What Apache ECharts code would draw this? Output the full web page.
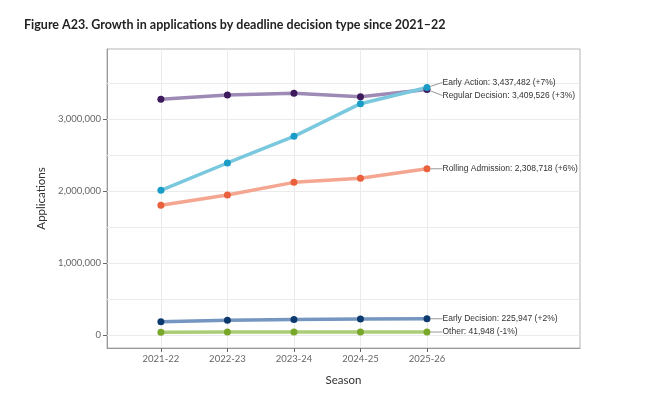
<!DOCTYPE html>
<html>
<head>
<meta charset="utf-8">
<script src="https://cdn.jsdelivr.net/npm/echarts@6/dist/echarts.min.js"></script>
<style>
  html, body { margin: 0; padding: 0; background: #fff; }
  #chart { width: 656px; height: 399px; }
</style>
</head>
<body>
<div id="chart"></div>
<script>
const seasons = ['2021-22', '2022-23', '2023-24', '2024-25', '2025-26']
const earlyAction = [2009000, 2389000, 2759000, 3212600, 3437482]
const regularDecision = [3273000, 3333000, 3356000, 3310000, 3409526]
const rollingAdmission = [1801000, 1944000, 2120000, 2178000, 2308718]
const earlyDecision = [183000, 205000, 215000, 221500, 225947]
const other = [40000, 43000, 42000, 42400, 41948]
const yTicks = [0, 1000000, 2000000, 3000000]
const yGrid = [0, 500000, 1000000, 1500000, 2000000, 2500000, 3000000, 3500000]

const chart = echarts.init(document.getElementById('chart'))

// series config: name, values, line colour, point colour, label nudge
const lines = [
  { name: 'Regular Decision', data: regularDecision, line: '#9d8bb6', dot: '#3d1a5b', dy: 6 },
  { name: 'Early Action', data: earlyAction, line: '#7ac8de', dot: '#1a9cc7', dy: -5 },
  { name: 'Rolling Admission', data: rollingAdmission, line: '#f4a690', dot: '#e8603c', dy: 0 },
  { name: 'Early Decision', data: earlyDecision, line: '#7496c0', dot: '#0d3a6e', dy: 0 },
  { name: 'Other', data: other, line: '#abcd78', dot: '#78a72a', dy: 0 }
]

const fmt = (v) => v.toLocaleString('en-US')

const series = lines.map((s) => {
  const n = s.data.length
  const pct = Math.round((s.data[n - 1] / s.data[n - 2] - 1) * 100)
  const pctTxt = (pct > 0 ? '+' : '') + pct + '%'
  return {
    name: s.name,
    type: 'line',
    symbol: 'circle',
    symbolSize: 7,
    lineStyle: { color: s.line, width: 3.5 },
    itemStyle: { color: s.dot, borderWidth: 0 },
    z: 3,
    data: s.data.map((v, i) => {
      const item = { value: [i + 1, v] }
      if (i === n - 1) {
        item.label = {
          show: true,
          position: 'right',
          distance: 12,
          formatter: s.name + ': ' + fmt(v) + ' (' + pctTxt + ')',
          fontFamily: 'Liberation Sans',
          fontSize: 8.5,
          color: '#333'
        }
      }
      return item
    }),
    labelLine: { show: true, lineStyle: { color: '#999', width: 1 } },
    labelLayout: { dy: s.dy }
  }
})

// grid lines drawn as markLines so they sit on the data values
series.push({
  type: 'line',
  data: [],
  silent: true,
  z: 1,
  markLine: {
    z: 1,
    silent: true,
    animation: false,
    symbol: 'none',
    label: { show: false },
    emphasis: { disabled: true },
    lineStyle: { color: '#ebebeb', width: 1, type: 'solid' },
    data: yGrid.map((v) => ({ yAxis: v })).concat(seasons.map((s, i) => ({ xAxis: i + 1 })))
  }
})

const options = {
  animation: false,
  backgroundColor: '#fff',
  title: {
    text: 'Figure A23. Growth in applications by deadline decision type since 2021–22',
    left: 19,
    top: 13,
    textStyle: { fontFamily: 'Lato', fontSize: 12.5, fontWeight: 'bold', color: '#222' }
  },
  grid: {
    left: 107, right: 76, top: 49, bottom: 51,
    show: true, borderColor: '#b5b5b5', borderWidth: 1
  },
  xAxis: {
    type: 'value',
    min: 0.19,
    max: 7.3,
    name: 'Season',
    nameLocation: 'middle',
    nameGap: 26,
    nameTextStyle: { fontFamily: 'Lato', fontSize: 11.5, color: '#333' },
    axisLine: { show: true, onZero: false, lineStyle: { color: '#999' } },
    axisTick: { show: true, length: 4, customValues: [1, 2, 3, 4, 5], lineStyle: { color: '#666' } },
    axisLabel: {
      customValues: [1, 2, 3, 4, 5],
      formatter: (v) => seasons[Math.round(v) - 1] || '',
      fontFamily: 'Lato', fontSize: 9.5, color: '#666', margin: 6
    },
    splitLine: { show: false }
  },
  yAxis: {
    type: 'value',
    min: -180000,
    max: 3972000,
    name: 'Applications',
    nameLocation: 'middle',
    nameGap: 53,
    nameTextStyle: { fontFamily: 'Lato', fontSize: 11.5, color: '#333' },
    axisLine: { show: true, lineStyle: { color: '#999' } },
    axisTick: { show: true, length: 4, customValues: yTicks, lineStyle: { color: '#666' } },
    axisLabel: {
      customValues: yTicks,
      formatter: (v) => fmt(v),
      fontFamily: 'Lato', fontSize: 9.5, color: '#666', margin: 6
    },
    splitLine: { show: false }
  },
  series: series
}

chart.setOption(options)
</script>
</body>
</html>
